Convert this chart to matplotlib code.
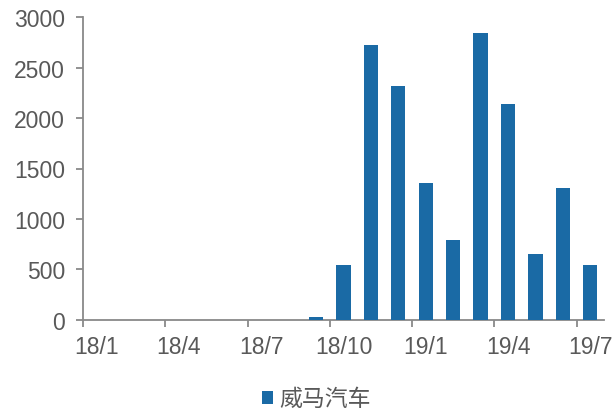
import matplotlib
matplotlib.use("Agg")
import matplotlib.pyplot as plt

months = ["18/1", "18/2", "18/3", "18/4", "18/5", "18/6", "18/7", "18/8", "18/9",
          "18/10", "18/11", "18/12", "19/1", "19/2", "19/3", "19/4", "19/5", "19/6", "19/7"]
sales = [0, 0, 0, 0, 0, 0, 0, 0, 27, 540, 2728, 2321, 1356, 791, 2847, 2137, 649, 1303, 543]
series_name = "威马汽车"
yticks = [0, 500, 1000, 1500, 2000, 2500, 3000]

bar_color = "#1A6AA5"
axis_color = "#898989"
text_color = "#595959"

fig = plt.figure(figsize=(6.16, 4.14), dpi=100)
ax = fig.add_axes([83 / 616, 1 - 320.7 / 414, (604 - 83) / 616, (320.7 - 18.3) / 414])

x = list(range(len(months)))
bars = ax.bar(x, sales, width=0.52, color=bar_color, label=series_name, zorder=3)

ax.set_xlim(-0.5, len(months) - 0.5)
ax.set_ylim(0, 3000)

for s in ["top", "right"]:
    ax.spines[s].set_visible(False)
for s in ["left", "bottom"]:
    ax.spines[s].set_color(axis_color)
    ax.spines[s].set_linewidth(1.3)

ax.set_yticks(yticks)
ax.set_yticklabels([str(v) for v in yticks], fontfamily="Liberation Sans",
                   fontsize=16.5, color=text_color)
ax.tick_params(axis="y", length=5, width=1.3, color=axis_color, pad=8)

# major ticks at category boundaries, labels at category centers
label_idx = list(range(0, len(months), 3))
ax.set_xticks([i - 0.5 for i in label_idx])
ax.set_xticklabels([])
ax.tick_params(axis="x", which="major", length=5, width=1.3, color=axis_color)
ax.set_xticks(label_idx, minor=True)
ax.set_xticklabels([months[i] for i in label_idx], minor=True,
                   fontfamily="Liberation Sans", fontsize=16.5, color=text_color)
ax.tick_params(axis="x", which="minor", length=0, pad=11)
for lbl in ax.get_xticklabels(minor=True):
    lbl.set_clip_on(False)

leg = fig.legend(handles=[bars], labels=[series_name], loc="center",
                 bbox_to_anchor=(0.513, 0.034), frameon=False,
                 prop={"family": ["Noto Sans CJK SC", "DejaVu Sans"], "size": 16.5},
                 handlelength=0.5, handleheight=0.5, handletextpad=0.25,
                 borderpad=0, borderaxespad=0)
for t in leg.get_texts():
    t.set_color(text_color)

fig.savefig("out.png", dpi=100)
